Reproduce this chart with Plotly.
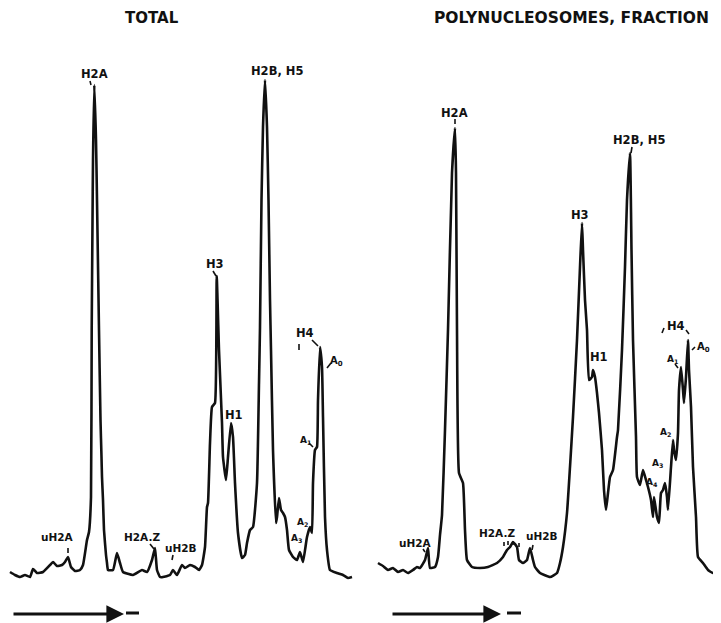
import plotly.graph_objects as go

# Densitometer scans: position along gel (arbitrary units) vs. absorbance (arbitrary units)
pos_total = [10, 15, 20, 25, 30, 33, 37, 43, 50, 53, 57, 62, 65, 68, 71, 75, 80, 83, 87, 89, 91,
             91.7, 92.5, 93, 94.3, 96, 97, 99, 100.5, 101.5, 102, 103, 104, 106, 107, 108, 113, 117,
             120, 123, 133, 142, 147, 152, 155, 157, 160, 163, 170, 173, 177, 182, 185, 190, 195, 199,
             202, 205, 207, 208, 210, 212, 215, 216.7, 219, 222, 223, 226, 228, 231, 233, 235, 238,
             242, 245, 247, 250, 253, 257, 259, 260, 261.5, 263, 265, 267, 268.5, 270, 271, 273, 276,
             277, 279, 281, 283, 285, 287, 289, 293, 297, 300, 303, 307, 310, 312, 313, 315, 317, 318,
             320, 322, 323, 325, 327, 330, 337, 343, 348, 352]
abs_total = [28, 25, 23, 25, 23, 31, 27, 28, 35, 38, 34, 35, 38, 43, 33, 29, 30, 35, 60, 68, 103,
             270, 378, 440, 515, 460, 400, 270, 180, 143, 123, 100, 70, 45, 37, 30, 30, 47,
             37, 28, 25, 30, 28, 40, 52, 30, 23, 23, 25, 30, 25, 35, 32, 35, 33, 30,
             35, 53, 93, 97, 157, 193, 197, 324, 250, 177, 143, 120, 143, 177, 163, 117, 67,
             42, 45, 57, 70, 73, 117, 217, 273, 400, 473, 520, 473, 400, 300, 250, 150, 77,
             83, 102, 90, 87, 83, 70, 50, 43, 40, 48, 38, 63, 73, 67, 117, 150, 153, 200,
             253, 233, 183, 83, 50, 30, 27, 25, 22, 23]

pos_poly = [18, 23, 28, 33, 38, 43, 48, 53, 57, 60, 65, 68, 70, 75, 78, 80, 82, 85, 88, 92, 95, 96,
            97, 99, 103, 105, 107, 112, 120, 128, 137, 143, 147, 150, 153, 157, 159, 163, 167, 170,
            173, 175, 180, 190, 197, 200, 203, 207, 210, 213, 217, 220, 222, 223, 225, 227, 229, 232,
            233, 235, 237, 239, 242, 244, 246, 248, 250, 253, 257, 258, 262, 265, 267, 270, 271.5,
            273, 276, 277, 280, 283, 286, 288, 291, 293, 294, 297, 299, 301, 303, 305, 307, 308, 311,
            313, 314, 316, 318, 319, 321, 323, 324, 326, 328, 329, 331, 333, 336, 338, 343, 348, 353,
            360]
abs_poly = [37, 34, 30, 32, 28, 30, 27, 30, 33, 32, 40, 52, 32, 33, 43, 65, 85, 170, 270, 427, 472, 427,
            270, 127, 117, 70, 40, 33, 32, 33, 37, 43, 50, 53, 58, 53, 40, 37, 40, 52,
            40, 33, 27, 23, 27, 37, 53, 87, 133, 183, 260, 333, 377, 350, 300, 270, 220, 223,
            230, 223, 207, 187, 150, 110, 90, 107, 123, 130, 163, 170, 250, 333, 400, 447, 350,
            260, 163, 123, 115, 130, 120, 113, 100, 83, 103, 83, 77, 107, 110, 117, 103, 90, 133,
            160, 150, 140, 167, 210, 233, 210, 197, 223, 260, 230, 193, 133, 83, 43, 37, 30, 27,
            28]

panels = [
    # (axis, text, x, y, size)
    ("x", "H2A", 94, 526, 11.5), ("x", "H2B, H5", 277, 529, 11.5), ("x", "H3", 215, 336, 11.5),
    ("x", "H1", 234, 185, 11.5), ("x", "H4", 305, 267, 11.5), ("x", "A<sub>0</sub>", 336, 239, 10),
    ("x", "A<sub>1</sub>", 305, 160, 9), ("x", "A<sub>2</sub>", 302, 78, 9), ("x", "A<sub>3</sub>", 296, 62, 9),
    ("x", "uH2A", 57, 63, 10.5), ("x", "H2A.Z", 142, 63, 10.5), ("x", "uH2B", 181, 52, 10.5),
    ("x2", "H2A", 94.5, 487, 11.5), ("x2", "H2B, H5", 279, 460, 11.5), ("x2", "H3", 220, 385, 11.5),
    ("x2", "H1", 239, 243, 11.5), ("x2", "H4", 316, 274, 11.5), ("x2", "A<sub>0</sub>", 343, 253, 10),
    ("x2", "A<sub>1</sub>", 312, 241, 9), ("x2", "A<sub>2</sub>", 305, 168, 9), ("x2", "A<sub>3</sub>", 297, 137, 9),
    ("x2", "A<sub>4</sub>", 292, 118, 9),
    ("x2", "uH2A", 55, 57, 10.5), ("x2", "H2A.Z", 137, 67, 10.5), ("x2", "uH2B", 182, 64, 10.5),
]

ticks = [
    ("x", 90, 519, 91, 515), ("x", 213, 329, 216, 324), ("x", 299, 256, 299, 250), ("x", 312, 260, 318, 254),
    ("x", 327, 232, 331, 237), ("x", 309, 157, 313, 153), ("x", 68, 52, 68, 47), ("x", 150, 56, 154, 51),
    ("x", 173, 45, 172, 40),
    ("x2", 95, 481, 95, 476), ("x2", 272, 453, 271, 447), ("x2", 302, 267, 304, 272), ("x2", 326, 270, 329, 266),
    ("x2", 332, 250, 335, 253), ("x2", 315, 236, 318, 232), ("x2", 63, 51, 65, 48),
    ("x2", 144, 58, 144, 54), ("x2", 148, 59, 148, 55), ("x2", 153, 59, 153, 55), ("x2", 159, 57, 159, 53),
    ("x2", 173, 55, 172, 50),
]

FONT = "DejaVu Sans"
INK = "#111111"

fig = go.Figure()
fig.add_trace(go.Scatter(x=pos_total, y=abs_total, mode="lines", xaxis="x", yaxis="y",
                         line=dict(color=INK, width=2.6, shape="spline", smoothing=0.4),
                         showlegend=False, hoverinfo="skip"))
fig.add_trace(go.Scatter(x=pos_poly, y=abs_poly, mode="lines", xaxis="x2", yaxis="y",
                         line=dict(color=INK, width=2.6, shape="spline", smoothing=0.4),
                         showlegend=False, hoverinfo="skip"))

annotations = []
for ax, text, x, y, size in panels:
    annotations.append(dict(xref=ax, yref="y", x=x, y=y, text=text, showarrow=False,
                            font=dict(family=FONT, size=size, color=INK, weight="bold")))

# titles (anchored to the top of the figure so they are not clipped)
annotations.append(dict(xref="x", yref="paper", x=152, y=1, yanchor="top", text="TOTAL",
                        showarrow=False, borderpad=0,
                        font=dict(family=FONT, size=15, color=INK, weight="bold")))
annotations.append(dict(xref="x2", yref="paper", x=73, y=1, yanchor="top", xanchor="left",
                        text="POLYNUCLEOSOMES, FRACTION I", showarrow=False, borderpad=0,
                        font=dict(family=FONT, size=15.5, color=INK, weight="bold")))

# direction-of-migration arrows
for ax, x0, x1 in [("x", 12, 124), ("x2", 31, 141)]:
    annotations.append(dict(xref=ax, yref="y", x=x1, y=-14, axref=ax, ayref="y", ax=x0, ay=-14,
                            showarrow=True, arrowhead=2, arrowsize=1.1, arrowwidth=3.2,
                            arrowcolor=INK, text=""))

shapes = []
for ax, x0, y0, x1, y1 in ticks:
    shapes.append(dict(type="line", xref=ax, yref="y", x0=x0, y0=y0, x1=x1, y1=y1,
                       line=dict(color=INK, width=1.6)))
for ax, x0, x1 in [("x", 126, 139), ("x2", 147, 161)]:
    shapes.append(dict(type="line", xref=ax, yref="y", x0=x0, y0=-13, x1=x1, y1=-13,
                       line=dict(color=INK, width=3)))

# The page body adds an 8 px offset; size the figure to fill the rest of the window.
W, H, OFF = 713, 615, 8
axis_common = dict(visible=False, showgrid=False, zeroline=False, fixedrange=True)
fig.update_layout(
    width=W, height=H,
    margin=dict(l=0, r=0, t=0, b=0),
    paper_bgcolor="white", plot_bgcolor="white",
    xaxis=dict(domain=[0, (360 - OFF) / W], range=[OFF, 360], **axis_common),
    xaxis2=dict(domain=[(360 - OFF) / W, 1], range=[0, 361], **axis_common),
    yaxis=dict(range=[-23, 600 - OFF], **axis_common),
    annotations=annotations, shapes=shapes,
)

fig.write_html("out.html")
